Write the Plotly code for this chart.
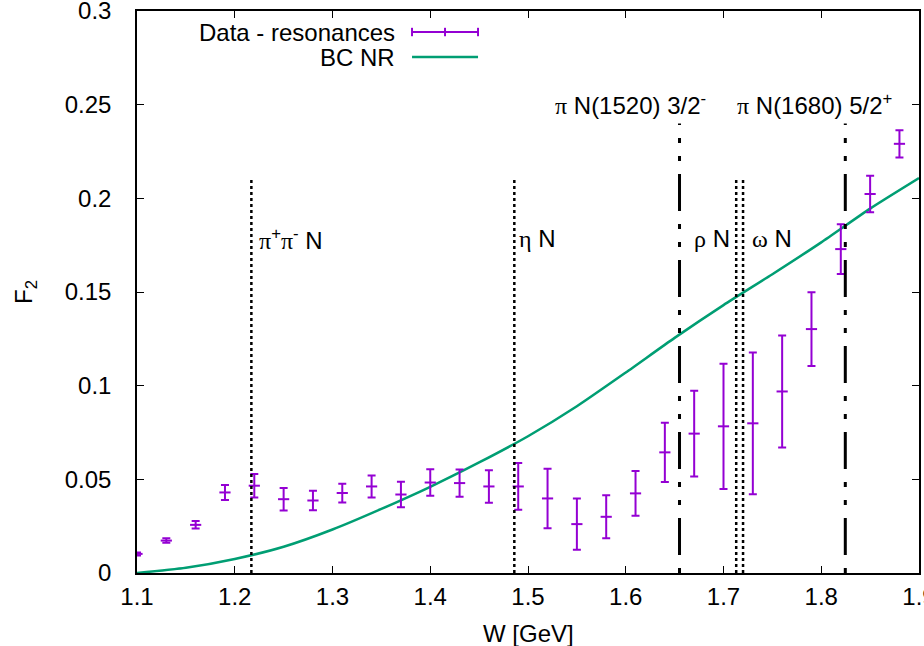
import plotly.graph_objects as go

# ---------------- data ----------------
W_data = [1.10, 1.13, 1.16, 1.19, 1.22, 1.25, 1.28, 1.31, 1.34, 1.37, 1.40, 1.43, 1.46, 1.49,
          1.52, 1.55, 1.58, 1.61, 1.64, 1.67, 1.70, 1.73, 1.76, 1.79, 1.82, 1.85, 1.88]
F2_data = [0.0102, 0.0173, 0.0257, 0.0430, 0.0466, 0.0394, 0.0387, 0.0427, 0.0462, 0.0419,
           0.0483, 0.0480, 0.0462, 0.0462, 0.0398, 0.0261, 0.0300, 0.0425, 0.0644, 0.0744,
           0.0783, 0.0799, 0.0969, 0.1302, 0.1729, 0.2023, 0.2291]
F2_err = [0.0008, 0.0012, 0.0020, 0.0040, 0.0063, 0.0060, 0.0052, 0.0050, 0.0059, 0.0068,
          0.0071, 0.0073, 0.0087, 0.0125, 0.0159, 0.0137, 0.0115, 0.0119, 0.0158, 0.0229,
          0.0334, 0.0378, 0.0299, 0.0197, 0.0133, 0.0097, 0.0073]

W_bc = [1.10, 1.15, 1.20, 1.25, 1.30, 1.35, 1.40, 1.45, 1.50, 1.55, 1.60, 1.65, 1.70,
        1.75, 1.80, 1.85, 1.90]
F2_bc = [0.0, 0.0028, 0.0075, 0.0140, 0.0232, 0.0342, 0.0460, 0.0590, 0.0730, 0.0890,
         0.1070, 0.1255, 0.1430, 0.1595, 0.1765, 0.1945, 0.2108]

threshold_W = [1.217, 1.486, 1.713, 1.720]      # pi pi N, eta N, rho N, omega N
threshold_top = 0.21
resonance_W = [1.655, 1.8246]                    # pi N(1520), pi N(1680)
resonance_top = 0.24

x_ticks = [1.1, 1.2, 1.3, 1.4, 1.5, 1.6, 1.7, 1.8, 1.9]
x_ticklabels = ["1.1", "1.2", "1.3", "1.4", "1.5", "1.6", "1.7", "1.8", "1.9"]
y_ticks = [0, 0.05, 0.1, 0.15, 0.2, 0.25, 0.3]
y_ticklabels = ["0", "0.05", "0.1", "0.15", "0.2", "0.25", "0.3"]

PURPLE = "#9400D3"
GREEN = "#009E73"
FONT = "Liberation Sans"
FS = 24


def g(ch):
    return '<span style="font-family:Liberation Serif">' + ch + '</span>'


labels = [
    (1.2230, 0.1783, g("π") + "<sup>+</sup>" + g("π") + "<sup>-</sup> N"),
    (1.4888, 0.1783, g("η") + " N"),
    (1.6673, 0.1783, g("ρ") + " N"),
    (1.7276, 0.1783, g("ω") + " N"),
    (1.5255, 0.2505, g("π") + " N(1520) 3/2<sup>-</sup>"),
    (1.7122, 0.2505, g("π") + " N(1680) 5/2<sup>+</sup>"),
]

fig = go.Figure()

fig.add_trace(go.Scatter(
    x=W_bc, y=F2_bc, mode="lines", name="BC NR",
    line=dict(color=GREEN, width=2.5, shape="spline", smoothing=0.6),
    showlegend=False,
))

fig.add_trace(go.Scatter(
    x=W_data, y=F2_data, mode="markers", name="Data - resonances",
    marker=dict(symbol="line-ew", size=8, line=dict(color=PURPLE, width=2), color=PURPLE),
    error_y=dict(type="data", array=F2_err, visible=True, color=PURPLE, thickness=2, width=4),
    showlegend=False,
))

shapes = []
for xv in threshold_W:
    shapes.append(dict(type="line", xref="x", yref="y", x0=xv, x1=xv, y0=0, y1=threshold_top,
                       line=dict(color="black", width=2.5, dash="3px,3px")))
for xv in resonance_W:
    shapes.append(dict(type="line", xref="x", yref="y", x0=xv, x1=xv, y0=0, y1=resonance_top,
                       line=dict(color="black", width=3, dash="5px,13px,37px,13px,5px,13px")))

# manual gnuplot-style key
lx0, lx1 = 0.3517, 0.4361
ly1, ly2 = 0.9626, 0.918
cap = 0.0075
lxm = (lx0 + lx1) / 2
shapes += [
    dict(type="line", xref="paper", yref="paper", x0=lx0, x1=lx1, y0=ly1, y1=ly1,
         line=dict(color=PURPLE, width=2)),
    dict(type="line", xref="paper", yref="paper", x0=lx0, x1=lx0, y0=ly1 - cap, y1=ly1 + cap,
         line=dict(color=PURPLE, width=2)),
    dict(type="line", xref="paper", yref="paper", x0=lx1, x1=lx1, y0=ly1 - cap, y1=ly1 + cap,
         line=dict(color=PURPLE, width=2)),
    dict(type="line", xref="paper", yref="paper", x0=lxm, x1=lxm, y0=ly1 - cap, y1=ly1 + cap,
         line=dict(color=PURPLE, width=2)),
    dict(type="line", xref="paper", yref="paper", x0=lx0, x1=lx1, y0=ly2, y1=ly2,
         line=dict(color=GREEN, width=2.5)),
]

annotations = []
for xv, yv, txt in labels:
    annotations.append(dict(x=xv, y=yv, xref="x", yref="y", text=txt, showarrow=False,
                            xanchor="left", yanchor="middle",
                            font=dict(family=FONT, size=FS, color="black")))
annotations += [
    dict(x=0.3325, y=ly1, xref="paper", yref="paper", text="Data - resonances", showarrow=False,
         xanchor="right", yanchor="middle", font=dict(family=FONT, size=FS, color="black")),
    dict(x=0.3325, y=ly2, xref="paper", yref="paper", text="BC NR", showarrow=False,
         xanchor="right", yanchor="middle", font=dict(family=FONT, size=FS, color="black")),
    dict(x=0.5, y=-0.107, xref="paper", yref="paper", text="W [GeV]", showarrow=False,
         xanchor="center", yanchor="middle", font=dict(family=FONT, size=FS, color="black")),
    dict(x=-0.1432, y=0.5, xref="paper", yref="paper", text="F<sub>2</sub>", showarrow=False,
         textangle=-90, xanchor="center", yanchor="middle",
         font=dict(family=FONT, size=FS, color="black")),
]

axis_common = dict(showline=True, linecolor="black", linewidth=1.5, mirror="ticks",
                   ticks="inside", ticklen=7, tickwidth=1, tickcolor="black",
                   showgrid=False, zeroline=False, ticklabeloverflow="allow",
                   automargin=False,
                   tickfont=dict(family=FONT, size=FS, color="black"))

fig.update_layout(
    width=924, height=646, autosize=False,
    margin=dict(l=137, r=5, t=11, b=73, autoexpand=False),
    paper_bgcolor="white", plot_bgcolor="white",
    xaxis=dict(range=[1.1, 1.9], tickvals=x_ticks, ticktext=x_ticklabels,
               ticklabelstandoff=1, **axis_common),
    yaxis=dict(range=[0, 0.3], tickvals=y_ticks, ticktext=y_ticklabels,
               ticklabelstandoff=19, **axis_common),
    shapes=shapes,
    annotations=annotations,
    showlegend=False,
)

fig.write_html("out.html",
               config={"responsive": False, "displayModeBar": False},
               post_script="document.body.style.margin='0';document.body.style.overflow='hidden';")
